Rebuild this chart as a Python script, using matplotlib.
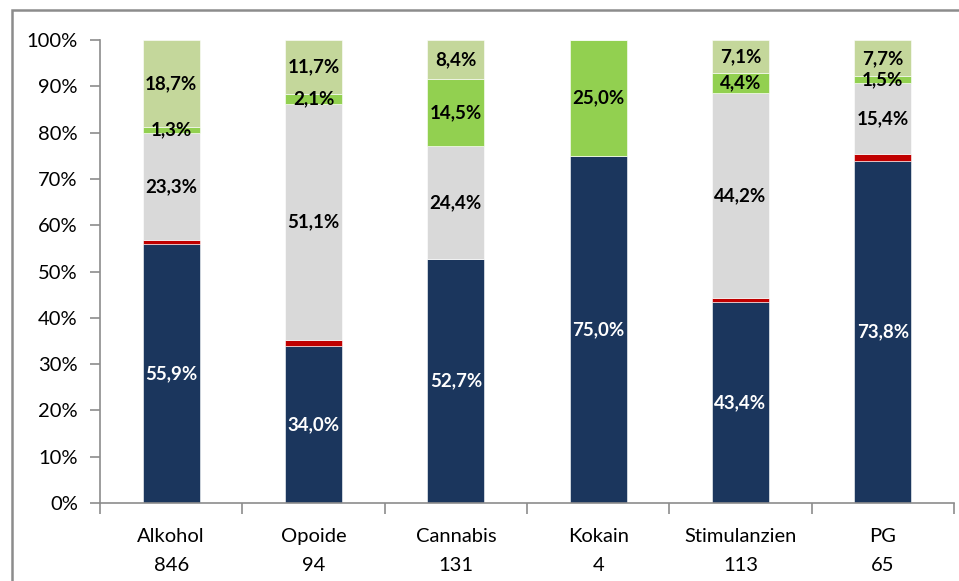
import matplotlib
matplotlib.use("Agg")
import matplotlib.pyplot as plt
import numpy as np
from matplotlib.patches import Rectangle
from matplotlib.ticker import PercentFormatter

plt.rcParams['font.family'] = ['Lato', 'DejaVu Sans']

categories = ['Alkohol', 'Opoide', 'Cannabis', 'Kokain', 'Stimulanzien', 'PG']
counts = ['846', '94', '131', '4', '113', '65']

navy = [55.9, 34.0, 52.7, 75.0, 43.4, 73.8]
red = [0.8, 1.1, 0.0, 0.0, 0.9, 1.5]
grey = [23.3, 51.1, 24.4, 0.0, 44.2, 15.4]
green = [1.3, 2.1, 14.5, 25.0, 4.4, 1.5]
lightgreen = [18.7, 11.7, 8.4, 0.0, 7.1, 7.7]

series = [
    (navy, '#1B365D', 'white', True),
    (red, '#C00000', None, False),
    (grey, '#D9D9D9', 'black', True),
    (green, '#92D050', 'black', True),
    (lightgreen, '#C4D79B', 'black', True),
]

fig = plt.figure(figsize=(9.59, 5.81), dpi=100)
ax = fig.add_axes([0.1043, 0.1343, 0.8905, 0.7968])

# outer chart frame
fig.patches.append(Rectangle((12 / 959, -0.05), 1.1, 1 - 10 / 581 + 0.05,
                             transform=fig.transFigure, fill=False,
                             edgecolor='#8C8C8C', linewidth=1.8))

x = np.arange(len(categories))
bottom = np.zeros(len(categories))
for vals, color, tcolor, show in series:
    vals = np.array(vals)
    ax.bar(x, vals, 0.4, bottom=bottom, color=color,
           edgecolor='white', linewidth=0.4)
    if show:
        for xi, b, v in zip(x, bottom, vals):
            if v > 0:
                ax.text(xi, b + v / 2, f'{v:.1f}%'.replace('.', ','),
                        ha='center', va='center', color=tcolor,
                        fontsize=13.5, fontweight='bold')
    bottom += vals

ax.set_xlim(-0.5, len(categories) - 0.5)
ax.set_ylim(0, 100)
ax.set_yticks(np.arange(0, 101, 10))
ax.yaxis.set_major_formatter(PercentFormatter(decimals=0))

ax.set_xticks(np.arange(-0.5, len(categories)), minor=False)
ax.set_xticklabels([])
ax.set_xticks(x, minor=True)
ax.set_xticklabels([f'{c}\n{n}' for c, n in zip(categories, counts)],
                   minor=True, linespacing=1.85)
ax.tick_params(axis='x', which='minor', length=0, pad=18, labelsize=14.5)
ax.tick_params(axis='x', which='major', length=8, color='#8C8C8C', width=1.2)
ax.tick_params(axis='y', length=7, color='#8C8C8C', width=1.2, labelsize=14.5, pad=9)

for s in ['top', 'right']:
    ax.spines[s].set_visible(False)
for s in ['left', 'bottom']:
    ax.spines[s].set_color('#8C8C8C')
    ax.spines[s].set_linewidth(1.2)

fig.savefig('out.png', dpi=100)
